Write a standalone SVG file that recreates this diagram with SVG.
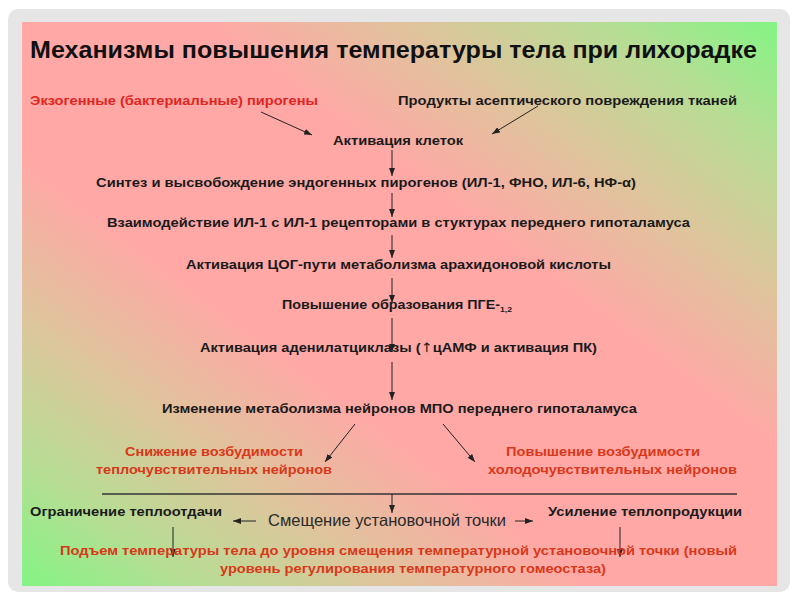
<svg xmlns="http://www.w3.org/2000/svg" width="800" height="600" viewBox="0 0 800 600">
<defs>
<linearGradient id="bg" x1="1" y1="0" x2="0" y2="1">
<stop offset="0" stop-color="#84f484"/>
<stop offset="0.12" stop-color="#b8dc94"/>
<stop offset="0.25" stop-color="#e0c39c"/>
<stop offset="0.38" stop-color="#ffa8a6"/>
<stop offset="0.62" stop-color="#ffa8a6"/>
<stop offset="0.75" stop-color="#e0c39c"/>
<stop offset="0.88" stop-color="#b8dc94"/>
<stop offset="1" stop-color="#84f484"/>
</linearGradient>
<marker id="ah" markerUnits="userSpaceOnUse" markerWidth="8" markerHeight="6" refX="8" refY="3" orient="auto">
<path d="M0,0 L8,3 L0,6 z" fill="#222"/>
</marker>
<style>
text{font-family:"Liberation Sans",Arial,sans-serif;font-weight:bold;font-size:13.2px;fill:#1a1a1a}
.title{font-size:23px;fill:#111}
.red{fill:#e0261f}
.red2{fill:#d8381a}
.norm{font-weight:normal;font-size:16.5px;fill:#2a2a2a}
.up{font-family:"DejaVu Sans",sans-serif;font-weight:normal;font-size:13px;fill:#1a1a1a}
.con line{stroke:#222;stroke-width:1;fill:none}
.arr{marker-end:url(#ah)}
</style>
</defs>
<rect x="0" y="0" width="800" height="600" fill="#fff"/>
<rect x="8" y="9" width="782" height="583" rx="10" fill="#e6e6e6"/>
<rect x="22" y="22" width="755" height="564" fill="url(#bg)"/>

<g id="title"><text class="title" x="30" y="58" textLength="727" lengthAdjust="spacingAndGlyphs">Механизмы повышения температуры тела при лихорадке</text></g>

<g id="connectors" class="con">
<line class="arr" x1="261" y1="112" x2="312" y2="135"/>
<line class="arr" x1="538" y1="106" x2="492" y2="134"/>
<line class="arr" x1="392" y1="150" x2="392" y2="176"/>
<line class="arr" x1="392" y1="193" x2="392" y2="217"/>
<line class="arr" x1="392" y1="235" x2="392" y2="258"/>
<line class="arr" x1="392" y1="278" x2="392" y2="303"/>
<line class="arr" x1="392" y1="318" x2="392" y2="352"/>
<line class="arr" x1="392" y1="362" x2="392" y2="400"/>
<line class="arr" x1="355" y1="424" x2="325" y2="462"/>
<line class="arr" x1="443" y1="424" x2="475" y2="462"/>
<line x1="102" y1="494" x2="737" y2="494" style="stroke:#333;stroke-width:1.5"/>
<line class="arr" x1="392" y1="494" x2="392" y2="513"/>
<line class="arr" x1="256" y1="521" x2="233" y2="521"/>
<line class="arr" x1="515" y1="521" x2="533" y2="521"/>
<line class="arr" x1="173" y1="527" x2="173" y2="557"/>
<line class="arr" x1="620" y1="527" x2="620" y2="557"/>
</g>

<g id="n-exo"><text class="red" x="30" y="105" textLength="288" lengthAdjust="spacingAndGlyphs">Экзогенные (бактериальные) пирогены</text></g>
<g id="n-asept"><text x="398" y="105" textLength="339" lengthAdjust="spacingAndGlyphs">Продукты асептического повреждения тканей</text></g>
<g id="n-cells"><text x="333" y="145" textLength="130" lengthAdjust="spacingAndGlyphs">Активация клеток</text></g>
<g id="n-synth"><text x="96" y="187" textLength="540" lengthAdjust="spacingAndGlyphs">Синтез и высвобождение эндогенных пирогенов (ИЛ-1, ФНО, ИЛ-6, НФ-α)</text></g>
<g id="n-il1"><text x="107" y="227" textLength="583" lengthAdjust="spacingAndGlyphs">Взаимодействие ИЛ-1 с ИЛ-1 рецепторами в стуктурах переднего гипоталамуса</text></g>
<g id="n-cox"><text x="186" y="269" textLength="425" lengthAdjust="spacingAndGlyphs">Активация ЦОГ-пути метаболизма арахидоновой кислоты</text></g>
<g id="n-pge"><text x="282" y="309" textLength="230" lengthAdjust="spacingAndGlyphs">Повышение образования ПГЕ-<tspan font-size="8" dy="3">1,2</tspan></text></g>
<g id="n-ac"><text x="200" y="352" textLength="397" lengthAdjust="spacingAndGlyphs">Активация аденилатциклазы (<tspan class="up">↑</tspan>цАМФ и активация ПК)</text></g>
<g id="n-mpo"><text x="162" y="413" textLength="475" lengthAdjust="spacingAndGlyphs">Изменение метаболизма нейронов МПО переднего гипоталамуса</text></g>
<g id="n-warm">
<text class="red2" x="125" y="456" textLength="178" lengthAdjust="spacingAndGlyphs">Снижение возбудимости</text>
<text class="red2" x="96" y="474" textLength="236" lengthAdjust="spacingAndGlyphs">теплочувствительных нейронов</text>
</g>
<g id="n-cold">
<text class="red2" x="506" y="456" textLength="194" lengthAdjust="spacingAndGlyphs">Повышение возбудимости</text>
<text class="red2" x="488" y="474" textLength="249" lengthAdjust="spacingAndGlyphs">холодочувствительных нейронов</text>
</g>
<g id="n-limit"><text x="30" y="516" textLength="192" lengthAdjust="spacingAndGlyphs">Ограничение теплоотдачи</text></g>
<g id="n-shift"><text class="norm" x="268" y="526" textLength="238" lengthAdjust="spacingAndGlyphs">Смещение установочной точки</text></g>
<g id="n-prod"><text x="548" y="516" textLength="194" lengthAdjust="spacingAndGlyphs">Усиление теплопродукции</text></g>
<g id="n-rise">
<text class="red2" x="60" y="555" textLength="677" lengthAdjust="spacingAndGlyphs">Подъем температуры тела до уровня смещения температурной установочной точки (новый</text>
<text class="red2" x="220" y="573" textLength="386" lengthAdjust="spacingAndGlyphs">уровень регулирования температурного гомеостаза)</text>
</g>
</svg>
